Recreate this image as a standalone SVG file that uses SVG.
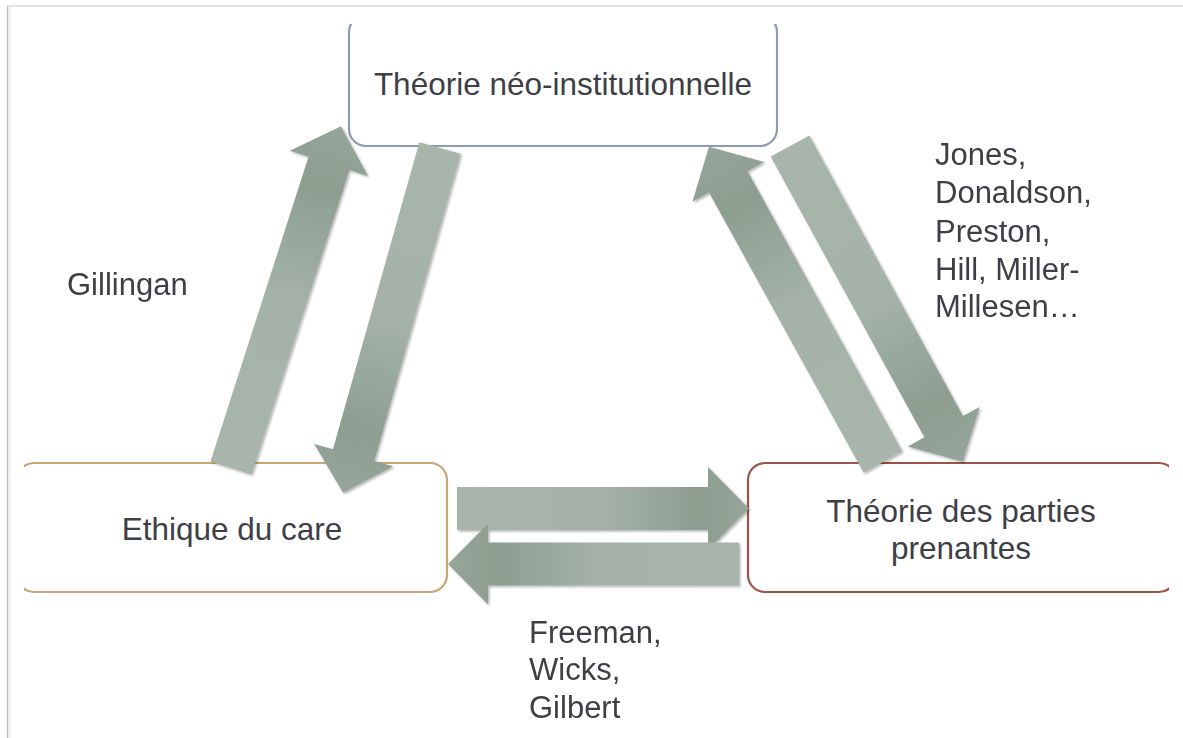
<svg xmlns="http://www.w3.org/2000/svg" width="1183" height="738" viewBox="0 0 1183 738">
  <style>
    .t { font-family: "Liberation Sans", Arial, sans-serif; font-size: 31px; fill: #3e3e46; }
    .box { fill: #ffffff; stroke-width: 2.2; }
    .arrow { fill: url(#ag); }
  </style>
  <defs>
    <linearGradient id="ag" x1="0" y1="0" x2="1" y2="0">
      <stop offset="0" stop-color="#a8b5ab"/>
      <stop offset="0.5" stop-color="#a4b2a7"/>
      <stop offset="0.82" stop-color="#8d9e91"/>
      <stop offset="1" stop-color="#95a599"/>
    </linearGradient>
    <filter id="sh" x="-10%" y="-10%" width="120%" height="120%">
      <feDropShadow dx="1.5" dy="1.5" stdDeviation="1.2" flood-color="#000" flood-opacity="0.3"/>
    </filter>
    <clipPath id="clip">
      <rect x="24" y="24" width="1145" height="714"/>
    </clipPath>
  </defs>
  <rect x="0" y="0" width="1183" height="738" fill="#ffffff"/>
  <g id="frame">
    <line x1="7" y1="6" x2="1183" y2="6" stroke="#e3e3e3" stroke-width="2"/>
    <line x1="7.5" y1="6" x2="7.5" y2="738" stroke="#c2c2c2" stroke-width="1.5"/>
    <line x1="9.5" y1="7" x2="9.5" y2="738" stroke="#ececec" stroke-width="1.5"/>
  </g>
  <g clip-path="url(#clip)">
    <g id="node-neo">
      <rect class="box" x="349" y="15" width="428" height="131" rx="17" stroke="#8c9bb4"/>
      <text class="t" x="563" y="95" text-anchor="middle" style="font-size:31.5px">Théorie néo-institutionnelle</text>
    </g>
    <g id="node-care">
      <rect class="box" x="17" y="463" width="430" height="129" rx="17" stroke="#c9a676"/>
      <text class="t" x="232" y="540" text-anchor="middle" style="font-size:31.5px">Ethique du care</text>
    </g>
    <g id="node-pp">
      <rect class="box" x="748" y="463" width="428" height="129" rx="17" stroke="#9e544b" stroke-width="2.6"/>
      <text class="t" x="961" y="522" text-anchor="middle" style="font-size:31.5px">Théorie des parties</text>
      <text class="t" x="961" y="559" text-anchor="middle" style="font-size:31.5px">prenantes</text>
    </g>
    <g id="connectors" filter="url(#sh)">
      <path class="arrow" transform="translate(231,468) rotate(-72.17)" d="M0,-21.5 H320 V-41 L359,0 L320,41 V21.5 H0 Z"/>
      <path class="arrow" transform="translate(440,148) rotate(105.7)" d="M0,-21.5 H319 V-41 L358,0 L319,41 V21.5 H0 Z"/>
      <path class="arrow" transform="translate(883,462) rotate(-118.91)" d="M0,-22 H320 V-41 L360,0 L320,41 V22 H0 Z"/>
      <path class="arrow" transform="translate(790,146) rotate(61.3)" d="M0,-22 H320 V-41 L360,0 L320,41 V22 H0 Z"/>
      <path class="arrow" transform="translate(457,508.5)" d="M0,-21.5 H251 V-41.5 L292,0 L251,41.5 V21.5 H0 Z"/>
      <path class="arrow" transform="translate(739,564) rotate(180)" d="M0,-21.5 H251 V-40.5 L291,0 L251,40.5 V21.5 H0 Z"/>
    </g>
  </g>
  <g id="labels">
    <text class="t" x="67" y="295">Gillingan</text>
    <text class="t" x="935" y="165">Jones,</text>
    <text class="t" x="935" y="203">Donaldson,</text>
    <text class="t" x="935" y="242">Preston,</text>
    <text class="t" x="935" y="280">Hill, Miller-</text>
    <text class="t" x="935" y="317">Millesen…</text>
    <text class="t" x="529" y="643">Freeman,</text>
    <text class="t" x="529" y="680">Wicks,</text>
    <text class="t" x="529" y="718">Gilbert</text>
  </g>
</svg>
